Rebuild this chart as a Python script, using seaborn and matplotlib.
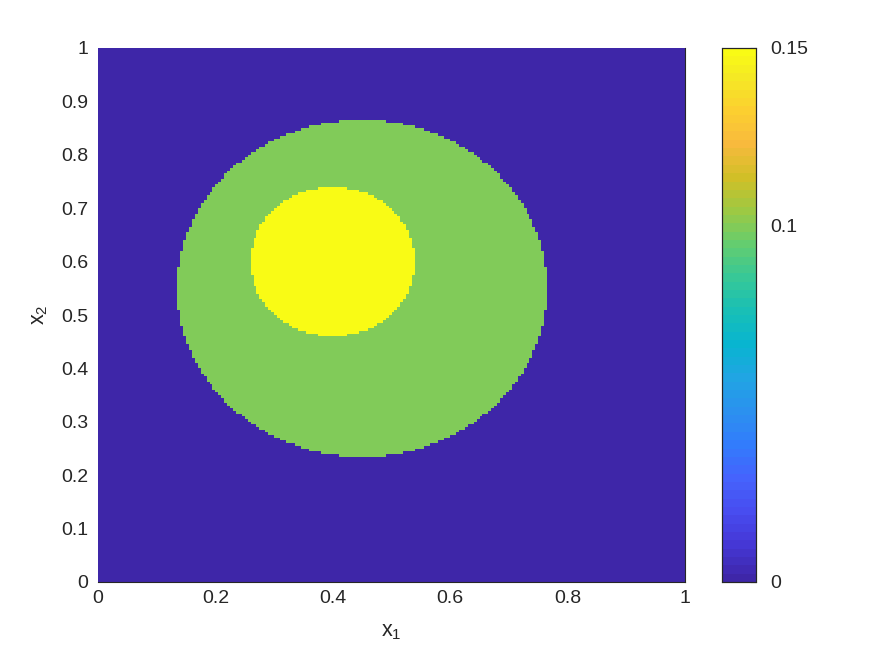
import numpy as np
import pandas as pd
import matplotlib
matplotlib.use('Agg')
import matplotlib.pyplot as plt
import seaborn as sns
from matplotlib.colors import LinearSegmentedColormap

# --- Data ---
n_grid = 200                       # cells per side
background_value = 0.0
circle_x = [0.45, 0.40]            # big disc, small disc
circle_y = [0.55, 0.60]
circle_r = [0.315, 0.14]
circle_value = [0.10, 0.15]

x_ticks = [0, 0.2, 0.4, 0.6, 0.8, 1]
x_tick_labels = ['0', '0.2', '0.4', '0.6', '0.8', '1']
y_ticks = [0, 0.1, 0.2, 0.3, 0.4, 0.5, 0.6, 0.7, 0.8, 0.9, 1]
y_tick_labels = ['0', '0.1', '0.2', '0.3', '0.4', '0.5', '0.6', '0.7', '0.8', '0.9', '1']
cbar_ticks = [0, 0.1, 0.15]
cbar_tick_labels = ['0', '0.1', '0.15']

# --- MATLAB parula colormap (64 levels) ---
parula_anchors = [
    (0.2422, 0.1504, 0.6603), (0.2706, 0.2147, 0.8364), (0.2813, 0.3006, 0.9414),
    (0.2699, 0.3892, 0.9906), (0.1963, 0.4847, 0.9892), (0.1687, 0.5703, 0.9359),
    (0.1248, 0.6459, 0.8883), (0.0297, 0.7082, 0.8163), (0.0964, 0.7500, 0.7120),
    (0.2161, 0.7843, 0.5923), (0.3909, 0.8029, 0.4354), (0.6174, 0.7876, 0.2612),
    (0.8203, 0.7498, 0.1535), (0.9728, 0.7298, 0.2394), (0.9892, 0.8136, 0.1885),
    (0.9597, 0.9135, 0.1423), (0.9769, 0.9839, 0.0805),
]
anchor_pos = [i * 4 / 63 for i in range(16)] + [1.0]
parula = LinearSegmentedColormap.from_list('parula', list(zip(anchor_pos, parula_anchors)), N=64)

# --- Build the field on the grid (row 0 = bottom) ---
centres = (np.arange(n_grid) + 0.5) / n_grid
gx, gy = np.meshgrid(centres, centres)
field = np.full((n_grid, n_grid), background_value)
for cx, cy, r, v in zip(circle_x, circle_y, circle_r, circle_value):
    field[(gx - cx) ** 2 + (gy - cy) ** 2 <= r ** 2] = v
field_df = pd.DataFrame(field)

# --- Plot ---
sns.set_style('white')
plt.rcParams['font.family'] = ['Liberation Sans', 'DejaVu Sans']
plt.rcParams['mathtext.fontset'] = 'custom'
plt.rcParams['mathtext.rm'] = 'Liberation Sans'

text_color = '#262626'
tick_fs = 14
label_fs = 15.5
fig = plt.figure(figsize=(8.75, 6.56), dpi=100)
ax = fig.add_axes([98 / 875, 74 / 656, 587 / 875, 534 / 656])
cax = fig.add_axes([722 / 875, 74 / 656, 34 / 875, 534 / 656])

sns.heatmap(field_df, ax=ax, cbar_ax=cax, cmap=parula, vmin=0, vmax=0.15,
            xticklabels=False, yticklabels=False,
            cbar_kws={'ticks': cbar_ticks})
ax.invert_yaxis()

ax.set_xticks(np.array(x_ticks) * n_grid)
ax.set_xticklabels(x_tick_labels)
ax.set_yticks(np.array(y_ticks) * n_grid)
ax.set_yticklabels(y_tick_labels, rotation=0)
ax.tick_params(axis='both', length=0, labelsize=tick_fs, colors=text_color)
ax.tick_params(axis='x', pad=6)
ax.tick_params(axis='y', pad=7)

for side in ['top', 'left']:
    ax.spines[side].set_visible(False)
for side in ['bottom', 'right']:
    ax.spines[side].set_visible(True)
    ax.spines[side].set_color(text_color)
    ax.spines[side].set_linewidth(0.8)

ax.set_xlabel(r'x$_\mathregular{1}$', fontsize=label_fs, color=text_color, labelpad=10)
ax.set_ylabel(r'x$_\mathregular{2}$', fontsize=label_fs, color=text_color, labelpad=8)

cax.set_yticks(cbar_ticks)
cax.set_yticklabels(cbar_tick_labels)
cax.tick_params(axis='y', direction='in', length=4, width=0.8, labelsize=tick_fs,
                colors=text_color, pad=10)
for side in cax.spines:
    cax.spines[side].set_visible(True)
    cax.spines[side].set_color(text_color)
    cax.spines[side].set_linewidth(0.8)
cbar = ax.collections[0].colorbar
cbar.outline.set_linewidth(0.8)
cbar.outline.set_edgecolor(text_color)

fig.savefig('out.png', dpi=100)
